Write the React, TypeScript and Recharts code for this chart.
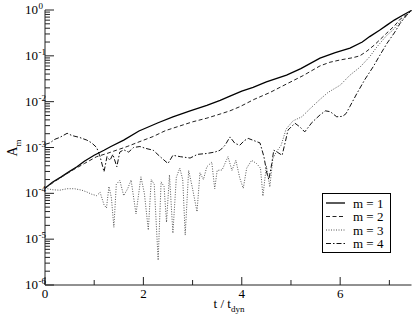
import { LineChart, Line, XAxis, YAxis, Legend } from "recharts";

// values (t / t_dyn, A_m)
const m1T = [0, 0.15, 0.33, 0.5, 0.65, 0.8, 1.0, 1.2, 1.34, 1.6, 1.91, 2.3, 2.6, 2.95, 3.29, 3.56, 3.76, 4.0, 4.23, 4.5, 4.91, 5.2, 5.59, 5.9, 6.2, 6.45, 6.6, 6.8, 6.95, 7.1, 7.28, 7.45];
const m1A = [1.29e-4, 1.74e-4, 2.29e-4, 3.02e-4, 3.8e-4, 5.0e-4, 6.76e-4, 8.7e-4, 1.05e-3, 1.45e-3, 2.29e-3, 3.47e-3, 4.68e-3, 6.31e-3, 8.32e-3, 1.07e-2, 1.32e-2, 1.7e-2, 2.04e-2, 2.69e-2, 3.8e-2, 5.25e-2, 8.91e-2, 1.17e-1, 1.48e-1, 2.0e-1, 2.63e-1, 3.63e-1, 4.68e-1, 6.03e-1, 7.76e-1, 0.977];

const m2T = [0, 0.2, 0.4, 0.57, 0.8, 1.05, 1.26, 1.45, 1.67, 1.93, 2.2, 2.45, 2.74, 3.0, 3.29, 3.56, 3.76, 3.96, 4.25, 4.57, 4.9, 5.25, 5.59, 5.79, 6.0, 6.26, 6.4, 6.54, 6.7, 6.95, 7.1, 7.22, 7.35, 7.45];
const m2A = [1.29e-4, 1.82e-4, 2.51e-4, 3.24e-4, 4.47e-4, 6.31e-4, 7.41e-4, 8.71e-4, 1.05e-3, 1.35e-3, 1.74e-3, 2.34e-3, 2.95e-3, 3.63e-3, 4.37e-3, 5.37e-3, 6.31e-3, 7.76e-3, 1.12e-2, 1.58e-2, 2.4e-2, 3.72e-2, 6.03e-2, 7.24e-2, 8.13e-2, 9.12e-2, 1.0e-1, 1.26e-1, 1.74e-1, 3.16e-1, 4.47e-1, 6.31e-1, 7.94e-1, 0.977];

const m3T = [0, 0.15, 0.3, 0.45, 0.6, 0.75, 0.85, 0.95, 1.05, 1.12, 1.2, 1.25, 1.3, 1.35, 1.4, 1.45, 1.52, 1.6, 1.68, 1.75, 1.85, 1.95, 2.02, 2.1, 2.16, 2.22, 2.3, 2.36, 2.42, 2.47, 2.53, 2.6, 2.67, 2.74, 2.8, 2.85, 2.92, 3.0, 3.09, 3.15, 3.22, 3.29, 3.39, 3.45, 3.5, 3.6, 3.72, 3.8, 3.88, 3.96, 4.03, 4.1, 4.2, 4.3, 4.38, 4.43, 4.5, 4.57, 4.63, 4.7, 4.8, 4.9, 5.04, 5.22, 5.43, 5.59, 5.75, 6.0, 6.2, 6.4, 6.6, 6.75, 6.95, 7.07, 7.25, 7.45];
const m3A = [1.29e-4, 1.2e-4, 1.17e-4, 1.26e-4, 1.26e-4, 1.17e-4, 1.07e-4, 9.55e-5, 8.91e-5, 1.05e-4, 5.62e-5, 4.79e-5, 1.41e-4, 7.94e-5, 1.82e-5, 1.58e-4, 1.91e-4, 8.91e-5, 1.26e-4, 1.95e-4, 3.55e-5, 2.29e-4, 1.0e-4, 1.58e-5, 2.0e-4, 1.58e-4, 3.47e-6, 1.78e-4, 1.41e-4, 2.34e-5, 2.51e-4, 1.35e-5, 2.24e-4, 3.55e-4, 2.0e-4, 1.23e-5, 3.16e-4, 1.26e-4, 3.98e-5, 2.82e-4, 2.0e-4, 3.8e-4, 4.79e-4, 1.26e-4, 3.16e-4, 3.24e-4, 6.31e-4, 3.16e-4, 5.25e-4, 2.14e-4, 1.29e-4, 3.55e-4, 5.25e-4, 4.47e-4, 3.55e-4, 8.71e-5, 3.98e-4, 1.38e-4, 5.62e-4, 7.94e-4, 1.12e-3, 2.51e-3, 3.8e-3, 4.68e-3, 7.76e-3, 1.12e-2, 1.58e-2, 2.29e-2, 3.8e-2, 5.62e-2, 9.55e-2, 1.58e-1, 2.82e-1, 3.63e-1, 6.03e-1, 0.977];

const m4T = [0, 0.1, 0.2, 0.3, 0.45, 0.55, 0.7, 0.85, 0.95, 1.05, 1.12, 1.2, 1.26, 1.32, 1.38, 1.46, 1.52, 1.6, 1.7, 1.8, 1.93, 2.05, 2.2, 2.34, 2.5, 2.6, 2.75, 2.95, 3.1, 3.29, 3.45, 3.56, 3.66, 3.76, 3.86, 3.96, 4.05, 4.13, 4.25, 4.37, 4.45, 4.51, 4.55, 4.61, 4.65, 4.72, 4.82, 4.88, 4.94, 5.08, 5.18, 5.28, 5.43, 5.59, 5.7, 5.8, 5.93, 6.05, 6.12, 6.2, 6.34, 6.5, 6.67, 6.8, 6.95, 7.1, 7.22, 7.35, 7.45];
const m4A = [1.17e-3, 1.26e-3, 1.51e-3, 1.66e-3, 2.04e-3, 1.82e-3, 1.66e-3, 1.45e-3, 1.26e-3, 1.0e-3, 6.31e-4, 2.95e-4, 6.31e-4, 5.25e-4, 7.08e-4, 3.8e-4, 7.94e-4, 8.91e-4, 7.94e-4, 1.0e-3, 1.05e-3, 9.55e-4, 8.71e-4, 6.31e-4, 4.47e-4, 6.76e-4, 6.31e-4, 5.89e-4, 7.08e-4, 7.41e-4, 7.94e-4, 8.71e-4, 1.12e-3, 1.7e-3, 1.23e-3, 1.12e-3, 1.41e-3, 1.58e-3, 1.41e-3, 1.26e-3, 6.31e-4, 2.75e-4, 2.0e-4, 4.47e-4, 8.71e-4, 7.94e-4, 6.76e-4, 1.26e-3, 2.4e-3, 3.39e-3, 2.82e-3, 2.19e-3, 3.55e-3, 5.13e-3, 6.31e-3, 6.03e-3, 4.68e-3, 4.79e-3, 5.5e-3, 7.94e-3, 1.51e-2, 3.02e-2, 5.75e-2, 1.0e-1, 1.86e-1, 3.16e-1, 5.13e-1, 7.59e-1, 0.977];

const xTicks = [0, 1, 2, 3, 4, 5, 6, 7];
const xLabeled = [0, 2, 4, 6];
const yDecades = [1e-6, 1e-5, 1e-4, 1e-3, 1e-2, 1e-1, 1];
const yMinor = [2, 3, 4, 5, 6, 7, 8, 9];

const yTicks = yDecades.flatMap((d, i) =>
  i === yDecades.length - 1 ? [d] : [d, ...yMinor.map((k) => k * d)]
);

const toRows = (t: number[], a: number[]) => t.map((x, i) => ({ t: x, a: a[i] }));

const series = [
  { name: "m = 1", rows: toRows(m1T, m1A), stroke: "#000", dash: undefined, width: 1.3 },
  { name: "m = 2", rows: toRows(m2T, m2A), stroke: "#222", dash: "4 2.5", width: 1 },
  { name: "m = 3", rows: toRows(m3T, m3A), stroke: "#555", dash: "1 1.5", width: 1 },
  { name: "m = 4", rows: toRows(m4T, m4A), stroke: "#111", dash: "5 2 1.5 2", width: 1 },
];

const ink = "#222";
const serif = { fontFamily: '"Liberation Serif", serif' };

function isDecade(v: number) {
  const lg = Math.log10(v);
  return Math.abs(lg - Math.round(lg)) < 1e-6;
}

function LeftTick({ x, y, payload }: any) {
  const major = isDecade(payload.value);
  const exp = Math.round(Math.log10(payload.value));
  return (
    <g>
      <line x1={x} x2={x + (major ? 9 : 5)} y1={y} y2={y} stroke={ink} />
      {major && (
        <>
          <text x={x - 7} y={y + 4} textAnchor="end" fontSize={13} style={serif} fill="#000">
            10
          </text>
          <text x={x - 6.5} y={y - 1} textAnchor="start" fontSize={9} style={serif} fill="#000">
            {exp}
          </text>
        </>
      )}
    </g>
  );
}

function RightTick({ x, y, payload }: any) {
  const major = isDecade(payload.value);
  return <line x1={x} x2={x - (major ? 9 : 5)} y1={y} y2={y} stroke={ink} />;
}

function BottomTick({ x, y, payload }: any) {
  const major = xLabeled.includes(payload.value);
  return (
    <g>
      <line x1={x} x2={x} y1={y} y2={y - (major ? 8 : 5)} stroke={ink} />
      {major && (
        <text x={x} y={y + 13} textAnchor="middle" fontSize={13} style={serif} fill="#000">
          {payload.value}
        </text>
      )}
    </g>
  );
}

function TopTick({ x, y, payload }: any) {
  const major = xLabeled.includes(payload.value);
  return <line x1={x} x2={x} y1={y} y2={y + (major ? 8 : 5)} stroke={ink} />;
}

function LegendBox() {
  return (
    <svg width={69} height={60}>
      <rect x={0.5} y={0.5} width={68} height={59} fill="#fff" stroke="#000" />
      {series.map((s, i) => {
        const cy = 10 + i * 13.5;
        return (
          <g key={s.name}>
            <line x1={4} x2={23} y1={cy} y2={cy} stroke={s.stroke} strokeWidth={s.width} strokeDasharray={s.dash} />
            <text x={31} y={cy + 4.5} fontSize={13} style={serif} fill="#000">
              {s.name}
            </text>
          </g>
        );
      })}
    </svg>
  );
}

export default function App() {
  return (
    <div style={{ position: "absolute", left: 0, top: 0, width: 415, height: 321, background: "#fff" }}>
      <LineChart width={415} height={321} margin={{ top: 10, right: 3.5, bottom: 0, left: 0 }}>
        <XAxis
          xAxisId="b"
          dataKey="t"
          type="number"
          domain={[0, 7.45]}
          ticks={xTicks}
          interval={0}
          height={36}
          tickSize={0}
          tickMargin={0}
          tickLine={false}
          axisLine={{ stroke: ink }}
          tick={<BottomTick />}
          label={{
            content: () => (
              <text x={229} y={308} textAnchor="middle" fontSize={13} style={serif} fill="#000">
                t / t<tspan dy={4} fontSize={9}>dyn</tspan>
              </text>
            ),
          }}
        />
        <XAxis
          xAxisId="top"
          orientation="top"
          type="number"
          domain={[0, 7.45]}
          ticks={xTicks}
          interval={0}
          height={0}
          tickSize={0}
          tickMargin={0}
          tickLine={false}
          axisLine={{ stroke: ink }}
          tick={<TopTick />}
        />
        <YAxis
          yAxisId="l"
          type="number"
          scale="log"
          domain={[1e-6, 1]}
          allowDataOverflow
          ticks={yTicks}
          interval={0}
          width={45}
          tickSize={0}
          tickMargin={0}
          tickLine={false}
          axisLine={{ stroke: ink }}
          tick={<LeftTick />}
          label={{
            content: () => (
              <text x={17} y={148} transform="rotate(-90 17 148)" textAnchor="middle" fontSize={14} style={serif} fill="#000">
                A<tspan dy={4} fontSize={9}>m</tspan>
              </text>
            ),
          }}
        />
        <YAxis
          yAxisId="r"
          orientation="right"
          type="number"
          scale="log"
          domain={[1e-6, 1]}
          allowDataOverflow
          ticks={yTicks}
          interval={0}
          width={0}
          tickSize={0}
          tickMargin={0}
          tickLine={false}
          axisLine={{ stroke: ink }}
          tick={<RightTick />}
        />
        {series.map((s) => (
          <Line
            key={s.name}
            xAxisId="b"
            yAxisId="l"
            data={s.rows}
            dataKey="a"
            name={s.name}
            type="linear"
            stroke={s.stroke}
            strokeWidth={s.width}
            strokeDasharray={s.dash}
            dot={false}
            activeDot={false}
            isAnimationActive={false}
          />
        ))}
        <Legend
          layout="horizontal"
          verticalAlign="middle"
          align="center"
          wrapperStyle={{ left: 322, top: 193, width: 69, height: 60 }}
          content={() => <LegendBox />}
        />
      </LineChart>
    </div>
  );
}
